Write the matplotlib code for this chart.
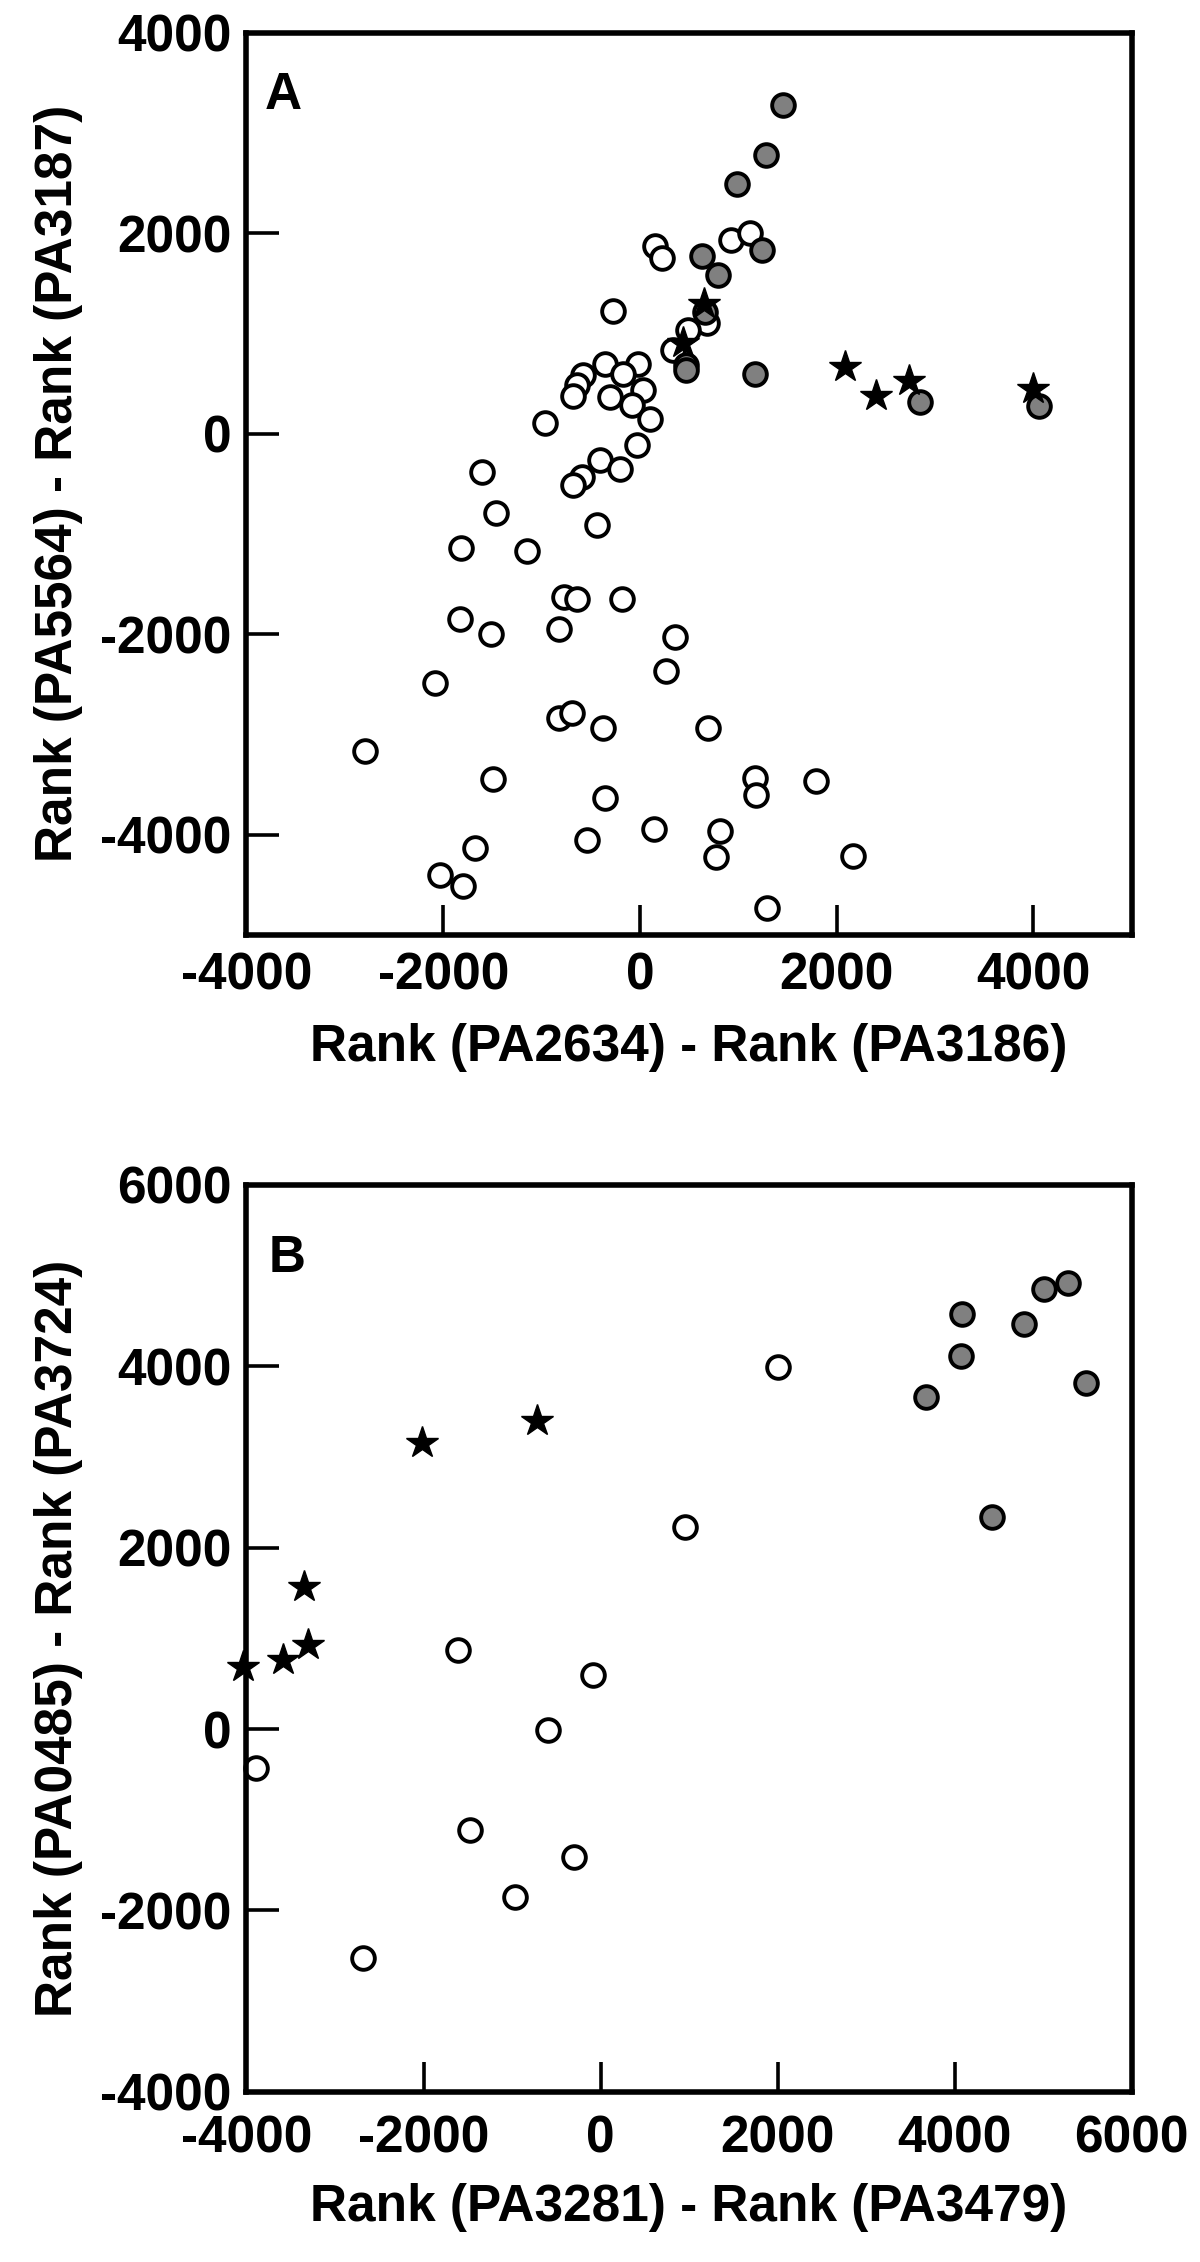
import matplotlib
matplotlib.use("Agg")
import matplotlib.pyplot as plt

plt.rcParams['font.family'] = ['Liberation Sans', 'DejaVu Sans']
plt.rcParams['font.weight'] = 'bold'
plt.rcParams['axes.labelweight'] = 'bold'
plt.rcParams['axes.unicode_minus'] = False

# panel A
a_open_x = [152, 220, -271, 338, -355, -17, -575, -176, -643, -677, -300, 27, -84, 102,
            -960, -27, -406, -203, -592, -677, -1607, -1465, -440, -1817, -1144, -768,
            -643, -186, -1834, -1513, -819, 355, 264, -2081, -819, -693, -372, -2792,
            -1489, -355, 142, -541, -1675, -2030, -1794, 694, 1175, 1185, 1794, 812,
            772, 2166, 1293, 931, 1117, 677, 490]
a_open_y = [1868, 1750, 1223, 840, 700, 695, 585, 595, 490, 380, 366, 433, 283, 142,
            108, -117, -260, -350, -427, -507, -384, -790, -910, -1140, -1167, -1624,
            -1644, -1650, -1850, -2000, -1950, -2027, -2367, -2490, -2840, -2784, -2940,
            -3167, -3444, -3634, -3940, -4057, -4134, -4400, -4517, -2934, -3434, -3600,
            -3460, -3967, -4224, -4217, -4734, 1933, 2000, 1100, 1036]
a_gray_x = [1455, 1286, 982, 1240, 630, 789, 660, 464, 470, 1168, 2843, 4061]
a_gray_y = [3276, 2776, 2490, 1833, 1776, 1583, 1216, 690, 640, 592, 316, 276]
a_star_x = [653, 440, 2081, 2396, 2734, 3993]
a_star_y = [1290, 910, 666, 373, 523, 450]

# panel B
b_open_x = [954, -1615, -84, -591, -3891, -1476, -295, -970, -2683, 2005]
b_open_y = [2231, 870, 596, -5, -432, -1111, -1410, -1855, -2522, 3989]
b_gray_x = [5275, 5012, 4086, 4780, 4067, 5481, 3673, 4424]
b_gray_y = [4919, 4854, 4580, 4463, 4117, 3814, 3661, 2337]
b_star_x = [-2020, -722, -3347, -3302, -3584, -4034]
b_star_y = [3157, 3395, 1564, 925, 761, 688]

a_ticks = [-4000, -2000, 0, 2000, 4000]
b_ticks = [-4000, -2000, 0, 2000, 4000, 6000]

FS = 37

fig = plt.figure(figsize=(12, 22.62), dpi=100)
axA = fig.add_axes([0.2054, 0.5867, 0.7377, 0.3988])
axB = fig.add_axes([0.2054, 0.0752, 0.7377, 0.4010])


def draw(ax, ox, oy, gx, gy, sx, sy):
    ax.plot(ox, oy, 'o', ls='none', ms=16.3, mfc='white', mec='black', mew=2.8, clip_on=False)
    ax.plot(gx, gy, 'o', ls='none', ms=16.3, mfc='#808080', mec='black', mew=2.8, clip_on=False)
    ax.plot(sx, sy, '*', ls='none', ms=24, mfc='black', mec='black', mew=1, clip_on=False)
    for s in ax.spines.values():
        s.set_linewidth(4)
    ax.tick_params(axis='y', direction='in', length=23.5, width=2.6, pad=11, labelsize=FS)
    ax.tick_params(axis='x', direction='in', length=21.5, width=2.6, labelsize=FS)


draw(axA, a_open_x, a_open_y, a_gray_x, a_gray_y, a_star_x, a_star_y)
axA.set_xlim(-4000, 5000)
axA.set_ylim(-5000, 4000)
axA.set_xticks(a_ticks)
axA.set_yticks(a_ticks)
axA.tick_params(axis='x', pad=12)
axA.set_xlabel('Rank (PA2634) - Rank (PA3186)', fontsize=FS, fontweight='bold', labelpad=16)
axA.set_ylabel('Rank (PA5564) - Rank (PA3187)', fontsize=FS, fontweight='bold')
axA.yaxis.set_label_coords(-0.185, 0.5)
axA.text(0.021, 0.915, 'A', transform=axA.transAxes, fontsize=FS, fontweight='bold', va='baseline')

draw(axB, b_open_x, b_open_y, b_gray_x, b_gray_y, b_star_x, b_star_y)
axB.set_xlim(-4000, 6000)
axB.set_ylim(-4000, 6000)
axB.set_xticks(b_ticks)
axB.set_yticks(b_ticks)
axB.tick_params(axis='x', pad=16)
axB.set_xlabel('Rank (PA3281) - Rank (PA3479)', fontsize=FS, fontweight='bold', labelpad=14)
axB.set_ylabel('Rank (PA0485) - Rank (PA3724)', fontsize=FS, fontweight='bold')
axB.yaxis.set_label_coords(-0.185, 0.5)
axB.text(0.025, 0.904, 'B', transform=axB.transAxes, fontsize=FS, fontweight='bold', va='baseline')

fig.savefig('out.png', dpi=100)
